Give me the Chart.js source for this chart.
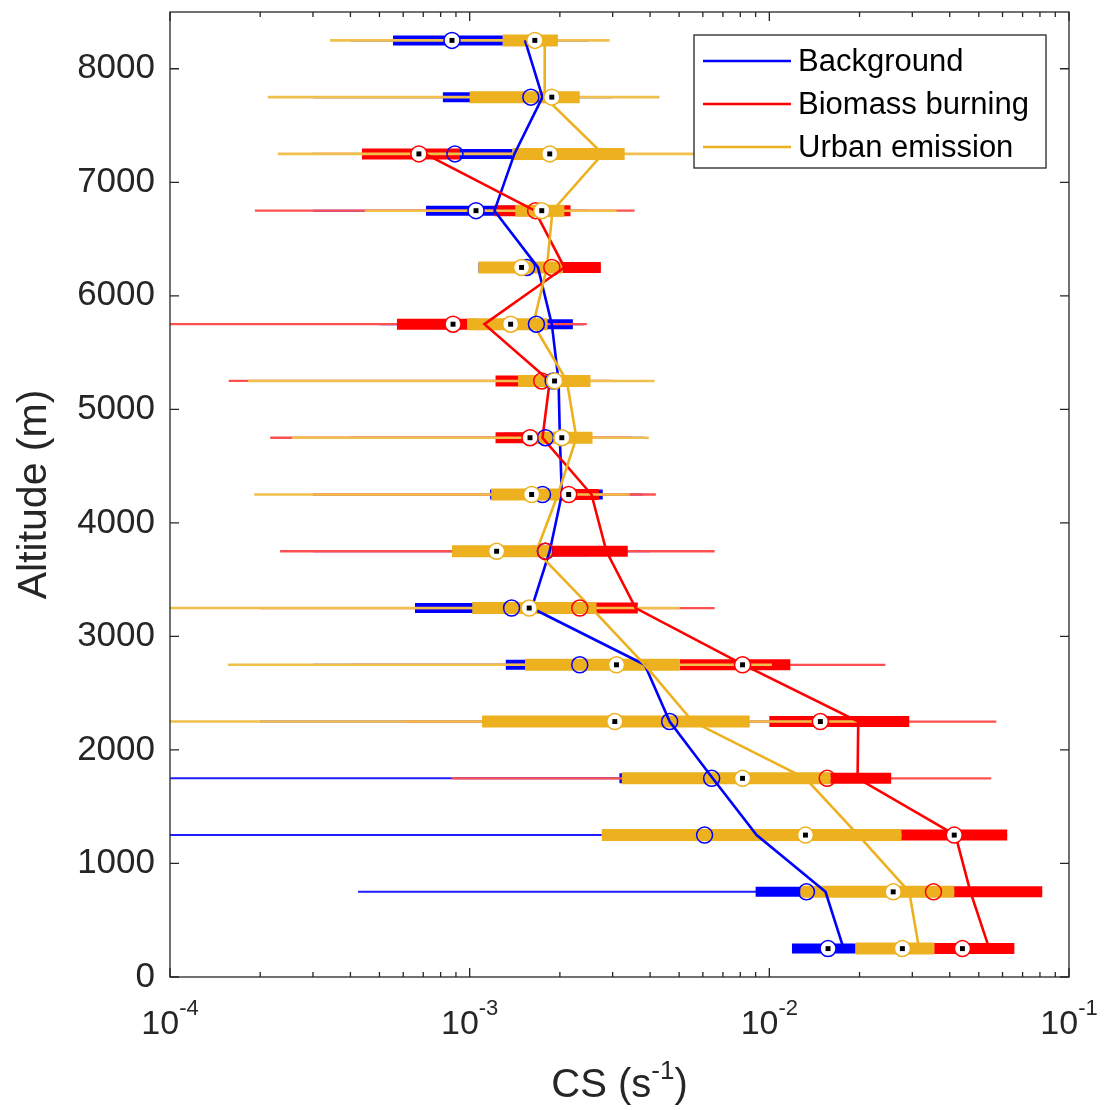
<!DOCTYPE html>
<html>
<head>
<meta charset="utf-8">
<script src="https://cdn.jsdelivr.net/npm/chart.js@4.4.1/dist/chart.umd.min.js"></script>
<style>
  html, body { margin: 0; padding: 0; background: #fff; }
  canvas { display: block; }
</style>
</head>
<body>
<canvas id="cs" width="1104" height="1110"></canvas>
<script>
// altitude bins (m)
const altitudes = [250, 750, 1250, 1750, 2250, 2750, 3250, 3750, 4250, 4750, 5250, 5750, 6250, 6750, 7250, 7750, 8250];

const seriesNames = ["Background", "Biomass burning", "Urban emission"];
const seriesColors = ["#0000ff", "#ff0000", "#edb120"];
const whiskerColors = ["#1f1fff", "#ff5050", "#f0bf4c"];

// Background
const lineBg = [0.0177, 0.0154, 0.00907, 0.00647, 0.00465, 0.00384, 0.00161, 0.00185, 0.00203, 0.0020, 0.00198, 0.00188, 0.00169, 0.00121, 0.00141, 0.00175, 0.00153];
const medBg = [0.0157, 0.0133, 0.00608, 0.00642, 0.00465, 0.00233, 0.00138, 0.00179, 0.00175, 0.00179, 0.0019, 0.00167, 0.00155, 0.00105, 0.000893, 0.0016, 0.000873];
const markBg = [1, 0, 0, 0, 0, 0, 0, 0, 0, 0, 0, 0, 0, 1, 0, 0, 1];
const q1Bg = [0.0119, 0.009, 0.0035, 0.00316, 0.0022, 0.00132, 0.000657, 0.0012, 0.00117, 0.0013, 0.0013, 0.0013, 0.00107, 0.000715, 0.0006, 0.000814, 0.000555];
const q3Bg = [0.0194, 0.0135, 0.011, 0.009, 0.0075, 0.0035, 0.0016, 0.0025, 0.00278, 0.0024, 0.0025, 0.00221, 0.002, 0.0015, 0.00139, 0.0014, 0.00129];
const loBg = [0.0119, 0.000424, 0.00008, 0.00008, 0.0002, 0.0003, 0.0002, 0.0003, 0.0003, 0.0004, 0.0004, 0.0005, 0.00107, 0.0003, 0.00025, 0.0003, 0.0004];
const hiBg = [0.0194, 0.016, 0.02, 0.015, 0.015, 0.006, 0.004, 0.004, 0.0038, 0.0038, 0.0035, 0.0024, 0.002, 0.0025, 0.0035, 0.003, 0.0025];

// Biomass burning
const lineBb = [0.0542, 0.0469, 0.0418, 0.0197, 0.0198, 0.00821, 0.00358, 0.00286, 0.00255, 0.00175, 0.00185, 0.00112, 0.00207, 0.00165, 0.00071, null, null];
const medBb = [0.0441, 0.0353, 0.0414, 0.0156, 0.0148, 0.00814, 0.00233, 0.00179, 0.00214, 0.00159, 0.00174, 0.00088, 0.00188, 0.00166, 0.000677, null, null];
const markBb = [1, 0, 1, 0, 1, 1, 0, 0, 1, 1, 0, 1, 0, 0, 1, 0, 0];
const q1Bb = [0.0355, 0.041, 0.026, 0.0155, 0.01, 0.00502, 0.0023, 0.0016, 0.0018, 0.00122, 0.00122, 0.000572, 0.00204, 0.00121, 0.000437, null, null];
const q3Bb = [0.0657, 0.0814, 0.0622, 0.0255, 0.0293, 0.01175, 0.00364, 0.00337, 0.0027, 0.0018, 0.0016, 0.00105, 0.00274, 0.00217, 0.000928, null, null];
const loBb = [0.0355, 0.041, 0.026, 0.00087, 0.0006, 0.0004, 0.0002, 0.000233, 0.0003, 0.000216, 0.000157, 0.00008, 0.00204, 0.000192, 0.0003, null, null];
const hiBb = [0.0657, 0.0814, 0.0622, 0.055, 0.0572, 0.0244, 0.00657, 0.00657, 0.00418, 0.0035, 0.003, 0.00246, 0.00274, 0.00355, 0.0015, null, null];

// Urban emission
const lineUe = [0.0316, 0.0293, 0.0198, 0.0132, 0.00555, 0.00384, 0.00255, 0.00167, 0.00197, 0.00227, 0.00211, 0.00163, 0.00181, 0.00189, 0.00278, 0.00178, 0.00178];
const medUe = [0.0278, 0.0259, 0.0132, 0.00814, 0.00305, 0.00309, 0.00158, 0.00123, 0.00161, 0.00203, 0.00192, 0.00137, 0.00149, 0.00174, 0.00185, 0.00188, 0.00165];
const markUe = [1, 1, 1, 1, 1, 1, 1, 1, 1, 1, 1, 1, 1, 1, 1, 1, 1];
const q1Ue = [0.0194, 0.0127, 0.00276, 0.00322, 0.0011, 0.00153, 0.00102, 0.000873, 0.00118, 0.00156, 0.00145, 0.00098, 0.00107, 0.00142, 0.00139, 0.001, 0.00129];
const q3Ue = [0.0355, 0.0414, 0.0276, 0.016, 0.0086, 0.00502, 0.00265, 0.00188, 0.00207, 0.00257, 0.00253, 0.00182, 0.00204, 0.00207, 0.00329, 0.00233, 0.00197];
const loUe = [0.0194, 0.0127, 0.00276, 0.00322, 0.00009, 0.000156, 0.00009, 0.000873, 0.000191, 0.000255, 0.000182, 0.00098, 0.00107, 0.000447, 0.000229, 0.000212, 0.000342];
const hiUe = [0.0355, 0.0414, 0.0276, 0.016, 0.0197, 0.0102, 0.00502, 0.00188, 0.00342, 0.00396, 0.00414, 0.00182, 0.00204, 0.00309, 0.00683, 0.0043, 0.00293];

// axis ticks
const yTicks = [0, 1000, 2000, 3000, 4000, 5000, 6000, 7000, 8000];
const xTickExp = [-4, -3, -2, -1];

Chart.defaults.font.family = '"Liberation Sans", Arial, sans-serif';
const FONT = '"Liberation Sans", Arial, sans-serif';

function ranges(lo, hi) {
  return altitudes.map((a, i) => lo[i] == null ? null : { y: a, x: [lo[i], hi[i]] }).filter(Boolean);
}
function points(vals, keep) {
  return altitudes.map((a, i) => vals[i] == null || (keep && !keep[i]) ? null : { x: vals[i], y: a }).filter(Boolean);
}

const groups = [
  { line: lineBg, med: medBg, mark: markBg, q1: q1Bg, q3: q3Bg, lo: loBg, hi: hiBg },
  { line: lineBb, med: medBb, mark: markBb, q1: q1Bb, q3: q3Bb, lo: loBb, hi: hiBb },
  { line: lineUe, med: medUe, mark: markUe, q1: q1Ue, q3: q3Ue, lo: loUe, hi: hiUe }
];

const datasets = [];
groups.forEach((g, k) => {
  // higher order = drawn further back; later groups a touch thicker so edges don't bleed
  datasets.push({
    type: "bar", label: seriesNames[k] + " range", data: ranges(g.lo, g.hi),
    backgroundColor: whiskerColors[k], barThickness: 2 + k * 0.3, grouped: false,
    borderWidth: 0, inflateAmount: 0, clip: 0, order: 40 - k * 2
  });
  datasets.push({
    type: "bar", label: seriesNames[k] + " IQR", data: ranges(g.q1, g.q3),
    backgroundColor: seriesColors[k], barThickness: 10 + k, grouped: false,
    borderWidth: 0, inflateAmount: 0, clip: 0, order: 39 - k * 2
  });
  datasets.push({
    type: "scatter", label: seriesNames[k], data: points(g.line),
    showLine: true, borderColor: seriesColors[k], borderWidth: 2.6,
    pointRadius: 0, order: 20 - k
  });
  const fills = altitudes.map((a, i) => g.med[i] == null ? null : (g.mark[i] ? "#ffffff" : "rgba(255,255,255,0)")).filter(v => v !== null);
  datasets.push({
    type: "scatter", label: seriesNames[k] + " median", data: points(g.med),
    pointRadius: 8, pointBorderWidth: 1.5, pointBorderColor: seriesColors[k],
    pointBackgroundColor: fills, order: 10 - k * 2
  });
  datasets.push({
    type: "scatter", label: seriesNames[k] + " mark", data: points(g.med, g.mark),
    pointStyle: "rect", pointRadius: 3.5, pointBorderWidth: 0,
    pointBackgroundColor: "#000000", order: 9 - k * 2
  });
});

const axisDecor = {
  id: "axisDecor",
  afterDraw(chart) {
    const { ctx, chartArea: a, scales: { x, y } } = chart;
    ctx.save();
    ctx.strokeStyle = "#262626";
    ctx.fillStyle = "#262626";
    ctx.lineWidth = 1.3;
    ctx.strokeRect(a.left, a.top, a.right - a.left, a.bottom - a.top);

    ctx.beginPath();
    yTicks.forEach(v => {
      const py = y.getPixelForValue(v);
      ctx.moveTo(a.left, py); ctx.lineTo(a.left + 9, py);
      ctx.moveTo(a.right, py); ctx.lineTo(a.right - 9, py);
    });
    xTickExp.forEach(e => {
      const px = x.getPixelForValue(Math.pow(10, e));
      ctx.moveTo(px, a.bottom); ctx.lineTo(px, a.bottom - 9);
      ctx.moveTo(px, a.top); ctx.lineTo(px, a.top + 9);
    });
    for (let e = -4; e < -1; e++) {
      for (let m = 2; m <= 9; m++) {
        const px = x.getPixelForValue(m * Math.pow(10, e));
        ctx.moveTo(px, a.bottom); ctx.lineTo(px, a.bottom - 5);
        ctx.moveTo(px, a.top); ctx.lineTo(px, a.top + 5);
      }
    }
    ctx.stroke();

    // y tick labels
    ctx.font = "35px " + FONT;
    ctx.textAlign = "right";
    ctx.textBaseline = "middle";
    yTicks.forEach(v => ctx.fillText(String(v), a.left - 15, y.getPixelForValue(v)));

    // x tick labels: 10 with superscript exponent
    ctx.textAlign = "left";
    ctx.textBaseline = "alphabetic";
    xTickExp.forEach(e => {
      const px = x.getPixelForValue(Math.pow(10, e));
      ctx.font = "34px " + FONT;
      const wBase = ctx.measureText("10").width;
      ctx.font = "22px " + FONT;
      const wExp = ctx.measureText(String(e)).width;
      const x0 = px - (wBase + wExp) / 2;
      ctx.font = "34px " + FONT;
      ctx.fillText("10", x0, a.bottom + 57);
      ctx.font = "22px " + FONT;
      ctx.fillText(String(e), x0 + wBase, a.bottom + 38);
    });

    // x axis title
    const cx = (a.left + a.right) / 2;
    ctx.font = "40px " + FONT;
    const w1 = ctx.measureText("CS (s").width;
    const w3 = ctx.measureText(")").width;
    ctx.font = "26px " + FONT;
    const w2 = ctx.measureText("-1").width;
    const tx = cx - (w1 + w2 + w3) / 2;
    const by = a.bottom + 120;
    ctx.font = "40px " + FONT;
    ctx.fillText("CS (s", tx, by);
    ctx.font = "26px " + FONT;
    ctx.fillText("-1", tx + w1, by - 18);
    ctx.font = "40px " + FONT;
    ctx.fillText(")", tx + w1 + w2, by);

    // y axis title
    ctx.translate(46, (a.top + a.bottom) / 2);
    ctx.rotate(-Math.PI / 2);
    ctx.textAlign = "center";
    ctx.font = "41px " + FONT;
    ctx.fillText("Altitude (m)", 0, 0);
    ctx.restore();
  }
};

const legendBox = {
  id: "legendBox",
  afterDraw(chart) {
    const { ctx, chartArea: a } = chart;
    const left = a.right - 375, top = a.top + 23, w = 352, h = 133;
    ctx.save();
    ctx.fillStyle = "#ffffff";
    ctx.fillRect(left, top, w, h);
    ctx.strokeStyle = "#262626";
    ctx.lineWidth = 1.3;
    ctx.strokeRect(left, top, w, h);
    ctx.font = "31px " + FONT;
    ctx.textBaseline = "middle";
    ctx.textAlign = "left";
    seriesNames.forEach((name, k) => {
      const ry = top + 26 + k * 43;
      ctx.strokeStyle = seriesColors[k];
      ctx.lineWidth = 2.5;
      ctx.beginPath();
      ctx.moveTo(left + 9, ry);
      ctx.lineTo(left + 97, ry);
      ctx.stroke();
      ctx.fillStyle = "#000000";
      ctx.fillText(name, left + 104, ry + 1);
    });
    ctx.restore();
  }
};

new Chart(document.getElementById("cs"), {
  type: "bar",
  data: { datasets },
  options: {
    indexAxis: "y",
    responsive: false,
    animation: false,
    layout: { padding: { top: 12, right: 35, left: 0, bottom: 0 } },
    plugins: { legend: { display: false }, tooltip: { enabled: false } },
    scales: {
      x: {
        type: "logarithmic", min: 1e-4, max: 0.1, position: "bottom", offset: false,
        ticks: { display: false }, grid: { display: false }, border: { display: false },
        afterFit: s => { s.height = 133; }
      },
      y: {
        type: "linear", min: 0, max: 8500, position: "left", offset: false,
        ticks: { display: false }, grid: { display: false }, border: { display: false },
        afterFit: s => { s.width = 170; }
      }
    }
  },
  plugins: [axisDecor, legendBox]
});
</script>
</body>
</html>
